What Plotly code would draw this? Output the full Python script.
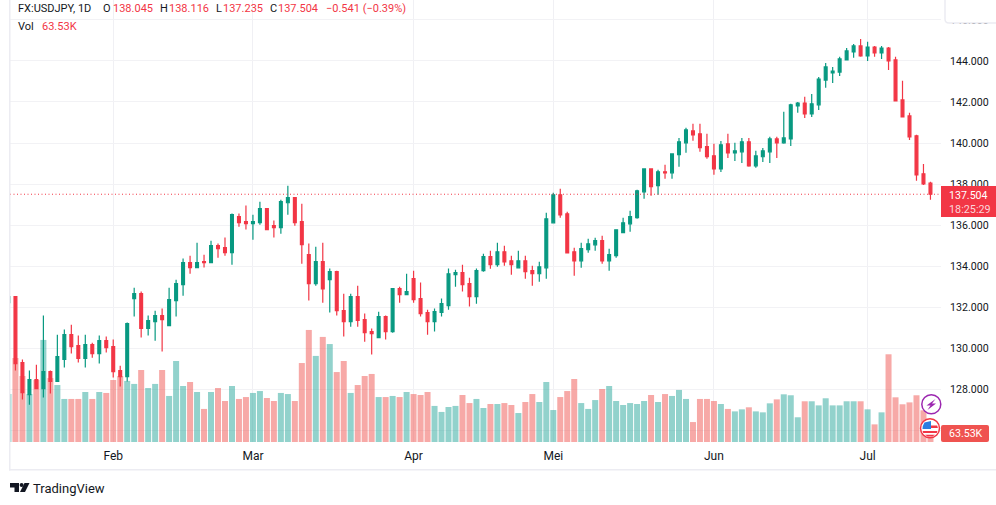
import pandas as pd
import plotly.graph_objects as go

# daily candles (first one is cut by the left edge)
dates = pd.bdate_range('2023-01-11', periods=133).strftime('%Y-%m-%d').tolist()

opens = [132.22, 132.51, 129.30, 127.74, 128.47, 128.03, 128.86, 128.38, 129.45, 130.66, 130.13, 129.50, 130.18, 129.74,
         130.37, 130.08, 128.91, 128.62, 132.42, 132.66, 130.96, 131.30, 131.59, 131.10, 132.32, 133.10, 134.17, 133.93,
         134.22, 134.17, 135.00, 134.90, 134.66, 136.41, 136.17, 136.07, 136.12, 136.80, 135.97, 135.88, 137.09, 137.34,
         136.17, 134.56, 133.15, 134.22, 133.34, 133.73, 131.83, 131.30, 132.51, 131.39, 130.81, 130.52, 131.54, 130.81,
         132.90, 132.61, 133.39, 132.42, 131.74, 131.30, 131.74, 132.08, 133.59, 133.68, 133.15, 132.51, 133.78, 134.46,
         134.07, 134.70, 134.26, 133.92, 134.26, 133.78, 133.63, 133.92, 136.11, 137.48, 136.55, 134.70, 134.26, 134.80,
         135.04, 135.24, 134.26, 134.51, 135.63, 136.06, 136.36, 137.62, 138.74, 137.92, 138.60, 138.55, 139.43, 140.01,
         140.59, 140.45, 139.82, 139.38, 138.74, 139.96, 139.52, 139.57, 140.06, 138.89, 139.33, 139.57, 140.20, 140.01,
         140.20, 141.81, 141.95, 141.42, 141.86, 143.07, 143.42, 143.46, 144.05, 144.44, 144.73, 144.24, 144.68, 144.39,
         144.63, 144.05, 142.10, 141.32, 140.35, 138.50, 138.045]
highs = [132.51, 132.51, 129.45, 128.91, 129.20, 131.59, 128.91, 130.66, 130.91, 131.15, 130.62, 130.66, 130.27, 130.62,
         130.57, 130.42, 129.15, 131.25, 132.95, 132.76, 131.59, 131.83, 131.93, 132.95, 133.34, 134.37, 134.51, 135.14,
         134.56, 135.24, 135.10, 135.39, 136.56, 136.56, 136.95, 136.51, 137.14, 136.80, 136.22, 137.24, 137.92, 137.34,
         137.04, 135.10, 134.95, 135.14, 133.88, 133.78, 132.66, 132.66, 133.05, 131.69, 130.96, 131.78, 131.59, 132.90,
         133.00, 133.63, 133.78, 133.20, 131.88, 131.93, 132.42, 133.88, 133.83, 134.07, 133.44, 133.88, 134.61, 134.75,
         135.14, 134.99, 134.51, 134.75, 134.51, 134.02, 134.21, 136.60, 137.58, 137.77, 136.65, 134.90, 135.14, 135.33,
         135.38, 135.48, 134.85, 135.77, 136.36, 136.70, 137.72, 138.74, 138.74, 138.70, 138.94, 139.47, 140.25, 140.74,
         140.94, 140.94, 140.45, 139.96, 140.10, 140.45, 140.01, 140.25, 140.25, 139.62, 139.76, 140.30, 140.30, 141.52,
         141.91, 142.00, 142.25, 142.39, 143.22, 143.90, 143.71, 144.20, 144.63, 144.83, 145.07, 144.93, 144.73, 144.73,
         144.68, 144.20, 143.03, 141.47, 140.40, 138.98, 138.116]
lows = [132.22, 128.91, 127.50, 127.25, 128.03, 127.60, 127.79, 128.38, 129.06, 129.74, 129.30, 129.06, 129.54, 129.25,
        129.79, 128.57, 128.13, 128.38, 131.54, 130.52, 130.62, 130.37, 129.84, 131.10, 131.54, 132.56, 133.63, 133.93,
        133.93, 134.17, 134.41, 134.51, 134.07, 135.92, 135.78, 135.29, 136.02, 135.78, 135.39, 135.58, 136.51, 135.97,
        134.12, 132.32, 133.05, 132.22, 131.74, 131.59, 130.57, 131.05, 131.05, 130.32, 129.69, 130.52, 130.42, 130.76,
        132.22, 132.61, 132.22, 131.54, 130.66, 130.81, 131.54, 131.88, 133.00, 132.76, 132.03, 132.17, 133.73, 133.87,
        133.97, 134.02, 133.58, 133.92, 133.39, 133.05, 133.24, 133.39, 136.11, 136.36, 134.65, 133.53, 133.92, 134.65,
        134.75, 134.12, 133.78, 134.41, 135.63, 135.68, 136.31, 137.28, 137.43, 137.48, 138.26, 138.26, 138.84, 139.52,
        140.11, 139.57, 139.23, 138.45, 138.59, 139.27, 139.13, 139.03, 138.84, 138.79, 139.08, 139.03, 139.27, 139.96,
        139.86, 141.47, 141.22, 141.27, 141.61, 142.69, 142.93, 143.27, 144.05, 144.15, 144.20, 144.00, 144.20, 144.10,
        143.56, 142.05, 141.27, 140.15, 138.16, 137.96, 137.235]
closes = [132.51, 129.25, 127.84, 128.47, 128.03, 128.86, 128.38, 129.59, 130.66, 130.08, 129.50, 130.18, 129.74, 130.37,
          130.03, 128.86, 128.62, 131.20, 132.66, 130.96, 131.35, 131.59, 131.39, 132.37, 133.15, 134.17, 133.93, 134.17,
          134.17, 135.00, 134.85, 134.66, 136.51, 136.12, 136.07, 136.17, 136.80, 135.78, 135.88, 137.14, 137.34, 136.12,
          135.05, 133.15, 134.22, 132.89, 133.73, 131.83, 131.30, 132.51, 131.35, 130.76, 130.71, 131.54, 130.81, 132.90,
          132.61, 132.76, 132.37, 131.69, 131.30, 131.78, 132.17, 133.63, 133.68, 133.10, 132.51, 133.78, 134.46, 134.07,
          134.70, 134.21, 134.07, 134.26, 133.73, 133.63, 133.97, 136.31, 137.48, 136.50, 134.65, 134.26, 134.85, 135.09,
          135.24, 134.26, 134.56, 135.77, 136.11, 136.41, 137.67, 138.74, 137.87, 138.60, 138.55, 139.47, 140.06, 140.64,
          140.40, 139.77, 139.33, 138.74, 139.91, 139.52, 139.62, 140.06, 138.89, 139.37, 139.62, 140.20, 140.01, 140.25,
          141.86, 141.95, 141.42, 141.91, 143.12, 143.71, 143.51, 144.10, 144.49, 144.73, 144.24, 144.68, 144.39, 144.63,
          144.00, 142.05, 141.27, 140.30, 138.45, 138.01, 137.504]
# volume in thousands
volumes = [351, 615, 483, 351, 454, 747, 468, 417, 315, 315, 315, 366, 315, 366, 359, 454, 483, 447, 425, 527, 395, 425,
           527, 337, 593, 410, 439, 366, 242, 366, 395, 300, 410, 315, 329, 359, 373, 322, 300, 359, 351, 300, 578, 820,
           630, 769, 717, 512, 593, 359, 417, 483, 498, 329, 329, 337, 329, 366, 351, 344, 366, 264, 220, 256, 264, 344,
           285, 315, 249, 278, 278, 285, 271, 212, 293, 351, 293, 439, 234, 329, 373, 461, 285, 242, 307, 388, 410, 300,
           271, 285, 278, 300, 344, 293, 351, 337, 381, 315, 146, 315, 315, 300, 278, 242, 224, 239, 254, 224, 217, 283,
           312, 349, 342, 181, 298, 298, 268, 320, 268, 268, 298, 298, 298, 239, 129, 217, 642, 327, 276, 290, 342, 232,
           63.53]

month_dates = ['2023-02-01', '2023-03-01', '2023-04-03', '2023-05-01', '2023-06-01', '2023-07-03']
month_labels = ['Feb', 'Mar', 'Apr', 'Mei', 'Jun', 'Jul']
price_ticks = [126, 128, 130, 132, 134, 136, 138, 140, 142, 144, 146]
# 126.000 sits under the volume tag in the original, only its grid line shows
price_labels = ['', '128.000', '130.000', '132.000', '134.000', '136.000', '138.000', '140.000', '142.000', '144.000',
                '146.000']
last_price = 137.504

UP = '#089981'
DOWN = '#F23645'
TEXT = '#131722'
BORDER = '#ececf2'
FONT = 'Roboto'

W, H = 996, 505
LEFT, RIGHT, BOTTOM = 10, 941, 442


# pixel position on the page -> paper fraction
def px(x):
    return (x - LEFT) / (RIGHT - LEFT)


def py(y):
    return 1 - y / BOTTOM


def poly(points):
    return 'M ' + ' L '.join(f'{px(x):.5f},{py(y):.5f}' for x, y in points) + ' Z'


def rounded(x0, y0, x1, y1, r):
    # box with rounded corners, built as a path
    return (f'M {px(x0 + r):.5f},{py(y0):.5f} L {px(x1 - r):.5f},{py(y0):.5f} '
            f'Q {px(x1):.5f},{py(y0):.5f} {px(x1):.5f},{py(y0 + r):.5f} '
            f'L {px(x1):.5f},{py(y1 - r):.5f} Q {px(x1):.5f},{py(y1):.5f} {px(x1 - r):.5f},{py(y1):.5f} '
            f'L {px(x0 + r):.5f},{py(y1):.5f} Q {px(x0):.5f},{py(y1):.5f} {px(x0):.5f},{py(y1 - r):.5f} '
            f'L {px(x0):.5f},{py(y0 + r):.5f} Q {px(x0):.5f},{py(y0):.5f} {px(x0 + r):.5f},{py(y0):.5f} Z')


fig = go.Figure()

vol_colors = ['rgba(38,166,154,0.5)' if c >= o else 'rgba(239,83,80,0.5)' for o, c in zip(opens, closes)]
fig.add_trace(go.Bar(x=dates, y=volumes, marker_color=vol_colors, marker_line_width=0, yaxis='y', showlegend=False))

fig.add_trace(go.Candlestick(
    x=dates, open=opens, high=highs, low=lows, close=closes, yaxis='y2', showlegend=False,
    whiskerwidth=0,
    increasing=dict(line=dict(color=UP, width=1.2), fillcolor=UP),
    decreasing=dict(line=dict(color=DOWN, width=1.2), fillcolor=DOWN),
))

shapes = []

# dotted last price line
shapes.append(dict(type='line', xref='paper', yref='y2', x0=0, x1=1, y0=last_price, y1=last_price,
                   line=dict(color=DOWN, width=1, dash='1px,2.5px')))

# pane borders
shapes.append(dict(type='rect', xref='paper', yref='paper', x0=px(9), x1=px(10.5), y0=py(0), y1=py(470.5),
                   fillcolor=BORDER, line_width=0, layer='above'))
shapes.append(dict(type='rect', xref='paper', yref='paper', x0=px(9), x1=px(996), y0=py(469), y1=py(470.5),
                   fillcolor=BORDER, line_width=0, layer='above'))

# widget box in the top right corner, it hides most of the 146 label
shapes.append(dict(type='path', xref='paper', yref='paper', path=rounded(945, -6, 1004, 23, 4),
                   fillcolor='white', line=dict(color=BORDER, width=1.5), layer='above'))

# price and volume tags
shapes.append(dict(type='rect', xref='paper', yref='paper', x0=px(941), x1=px(996), y0=py(186), y1=py(217),
                   fillcolor=DOWN, line_width=0, layer='above'))
shapes.append(dict(type='path', xref='paper', yref='paper', path=rounded(941, 425, 989, 442, 2),
                   fillcolor='#ef5350', line_width=0, layer='above'))

# purple icon
shapes.append(dict(type='circle', xref='paper', yref='paper', x0=px(921.8), x1=px(940.8), y0=py(394.8), y1=py(413.8),
                   fillcolor='white', line=dict(color='#9c27b0', width=1.5), layer='above'))
shapes.append(dict(type='path', xref='paper', yref='paper', layer='above', fillcolor='#9c27b0', line_width=0,
                   path=poly([(935.5, 399), (926.5, 405.5), (930.5, 405.5), (927.5, 410), (936, 403.5), (932, 403.5)])))

# flag icon
shapes.append(dict(type='circle', xref='paper', yref='paper', x0=px(920.5), x1=px(939.5), y0=py(418.8), y1=py(437.8),
                   fillcolor='white', line=dict(color=DOWN, width=1.5), layer='above'))
shapes.append(dict(type='path', xref='paper', yref='paper', layer='above', fillcolor=DOWN, line_width=0,
                   path=poly([(931, 425.5), (937.2, 425.5), (937.9, 428), (931, 428)])))
shapes.append(dict(type='path', xref='paper', yref='paper', layer='above', fillcolor=DOWN, line_width=0,
                   path=poly([(922.5, 431), (937.5, 431), (936.8, 433), (923.2, 433)])))
shapes.append(dict(type='path', xref='paper', yref='paper', layer='above', fillcolor=DOWN, line_width=0,
                   path=poly([(925, 434.8), (935, 434.8), (932.5, 436.5), (927.5, 436.5)])))
shapes.append(dict(type='path', xref='paper', yref='paper', layer='above', fillcolor='#2a7de1', line_width=0,
                   path=poly([(924.5, 422.5), (931, 421), (931, 429), (922.5, 429), (922.8, 426)])))

# TradingView mark
shapes.append(dict(type='path', xref='paper', yref='paper', layer='above', fillcolor=TEXT, line_width=0,
                   path=poly([(10, 483), (19, 483), (19, 492), (14.5, 492), (14.5, 487.5), (10, 487.5)])))
shapes.append(dict(type='circle', xref='paper', yref='paper', layer='above', fillcolor=TEXT, line_width=0,
                   x0=px(19.6), x1=px(23.6), y0=py(483), y1=py(487)))
shapes.append(dict(type='path', xref='paper', yref='paper', layer='above', fillcolor=TEXT, line_width=0,
                   path=poly([(24.5, 483), (29.5, 483), (25, 492), (20, 492)])))


def label(x, y, text, color=TEXT, size=11, anchor='left'):
    return dict(x=px(x), y=py(y), xref='paper', yref='paper', text=text, showarrow=False, xanchor=anchor,
                yanchor='middle', align='left', font=dict(family=FONT, size=size, color=color))


annotations = [
    label(16, 8.5, 'FX:USDJPY, 1D'),
    label(101, 8.5, 'O'),
    label(111, 8.5, '138.045', DOWN),
    label(158, 8.5, 'H'),
    label(167, 8.5, '138.116', DOWN),
    label(214, 8.5, 'L'),
    label(221, 8.5, '137.235', DOWN),
    label(268, 8.5, 'C'),
    label(276, 8.5, '137.504', DOWN),
    label(324, 8.5, '−0.541 (−0.39%)', DOWN),
    label(16, 26, 'Vol'),
    label(40, 26, '63.53K', DOWN),
    label(947, 195, '137.504', 'white', 10.6),
    label(947, 209, '18:25:29', '#fbd5d9', 10.8),
    label(947, 433.5, '63.53K', 'white', 10.6),
    label(31, 488, 'TradingView', TEXT, 13),
]

fig.update_layout(
    width=W, height=H,
    margin=dict(l=LEFT, r=W - RIGHT, t=0, b=H - BOTTOM),
    plot_bgcolor='white', paper_bgcolor='white',
    font=dict(family=FONT, size=10.6, color=TEXT),
    bargap=0.14, boxgap=0.42,
    hovermode=False,
    xaxis=dict(type='category', categoryorder='array', categoryarray=dates, range=[0.22, 133.51],
               rangeslider=dict(visible=False), tickmode='array', tickvals=month_dates, ticktext=month_labels,
               showgrid=True, gridcolor='#f0f0f4', gridwidth=1, zeroline=False, showline=False,
               ticks='outside', ticklen=3, tickcolor='rgba(0,0,0,0)', tickangle=0, tickfont=dict(size=12)),
    yaxis=dict(range=[0, 3235], showticklabels=False, showgrid=False, zeroline=False, showline=False),
    yaxis2=dict(overlaying='y', side='right', range=[125.43, 146.97], tickmode='array', tickvals=price_ticks,
                ticktext=price_labels, showgrid=True, gridcolor='#f2f2f5', gridwidth=1, zeroline=False, showline=False,
                ticks='outside', ticklen=6, tickcolor='rgba(0,0,0,0)'),
    shapes=shapes,
    annotations=annotations,
)

fig.write_html('out.html', config=dict(displayModeBar=False),
               post_script="document.body.style.margin='0';")
